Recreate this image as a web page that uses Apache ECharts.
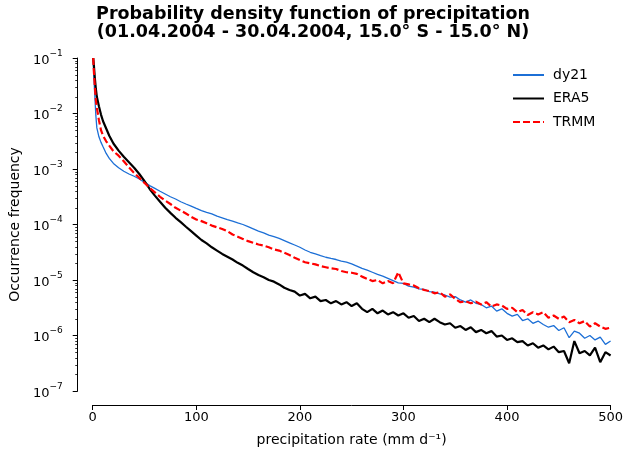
<!DOCTYPE html>
<html>
<head>
<meta charset="utf-8">
<script src="https://cdn.jsdelivr.net/npm/echarts@6/dist/echarts.min.js"></script>
<style>
html, body { margin: 0; padding: 0; background: #fff; }
#main { width: 626px; height: 457px; }
</style>
</head>
<body>
<div id="main"></div>
<script>
// precipitation rate bins (mm/d)
var rate = [0.5, 1, 2, 3, 4, 6, 8, 10, 13, 16, 20, 25, 30, 35, 40, 45, 50,
  55, 60, 65, 70, 75, 80, 85, 90, 95, 100, 105, 110, 115, 120, 125, 130, 135, 140, 145, 150,
  155, 160, 165, 170, 175, 180, 185, 190, 195, 200, 205, 210, 215, 220, 225, 230, 235, 240, 245, 250,
  255, 260, 265, 270, 275, 280, 285, 290, 295, 300, 305, 310, 315, 320, 325, 330, 335, 340, 345, 350,
  355, 360, 365, 370, 375, 380, 385, 390, 395, 400, 405, 410, 415, 420, 425, 430, 435, 440, 445, 450,
  455, 460, 465, 470, 475, 480, 485, 490, 495, 500];

var dy21 = [1.0e-1, 5.0e-2, 2.14e-2, 9.33e-3, 5.50e-3, 3.80e-3, 3.02e-3, 2.51e-3, 1.91e-3, 1.55e-3, 1.26e-3, 1.05e-3, 9.12e-4, 8.13e-4, 7.41e-4, 6.61e-4, 5.75e-4,
  5.01e-4, 4.47e-4, 3.98e-4, 3.55e-4, 3.16e-4, 2.88e-4, 2.57e-4, 2.34e-4, 2.14e-4, 1.95e-4, 1.78e-4, 1.66e-4, 1.55e-4, 1.41e-4, 1.32e-4, 1.23e-4, 1.15e-4, 1.07e-4, 1.00e-4, 9.12e-5,
  8.32e-5, 7.59e-5, 7.08e-5, 6.46e-5, 6.03e-5, 5.62e-5, 5.13e-5, 4.68e-5, 4.27e-5, 3.89e-5, 3.47e-5, 3.16e-5, 2.95e-5, 2.75e-5, 2.57e-5, 2.45e-5, 2.34e-5, 2.19e-5, 2.09e-5, 1.95e-5,
  1.78e-5, 1.62e-5, 1.51e-5, 1.38e-5, 1.26e-5, 1.17e-5, 1.07e-5, 9.77e-6, 8.91e-6, 8.71e-6, 7.76e-6, 7.41e-6, 6.92e-6, 6.76e-6, 6.17e-6, 6.03e-6, 5.62e-6, 5.37e-6, 4.90e-6, 5.01e-6,
  4.37e-6, 3.98e-6, 4.37e-6, 3.80e-6, 3.63e-6, 3.16e-6, 3.39e-6, 2.75e-6, 3.02e-6, 2.51e-6, 2.24e-6, 2.40e-6, 1.86e-6, 2.00e-6, 1.66e-6, 1.82e-6, 1.58e-6, 1.41e-6, 1.51e-6, 1.23e-6,
  1.38e-6, 9.12e-7, 1.20e-6, 1.10e-6, 8.91e-7, 1.00e-6, 8.32e-7, 9.33e-7, 6.92e-7, 7.94e-7];

var era5 = [1.0e-1, 7.94e-2, 4.47e-2, 2.82e-2, 2.00e-2, 1.35e-2, 9.55e-3, 7.24e-3, 5.37e-3, 3.98e-3, 2.88e-3, 2.14e-3, 1.66e-3, 1.32e-3, 1.05e-3, 8.13e-4, 6.03e-4,
  4.37e-4, 3.31e-4, 2.57e-4, 2.00e-4, 1.62e-4, 1.32e-4, 1.10e-4, 9.12e-5, 7.59e-5, 6.31e-5, 5.25e-5, 4.57e-5, 3.89e-5, 3.39e-5, 2.95e-5, 2.63e-5, 2.34e-5, 2.04e-5, 1.82e-5, 1.58e-5,
  1.38e-5, 1.23e-5, 1.12e-5, 1.00e-5, 9.33e-6, 8.32e-6, 7.24e-6, 6.61e-6, 6.17e-6, 5.25e-6, 5.62e-6, 4.68e-6, 5.01e-6, 4.17e-6, 4.37e-6, 3.80e-6, 4.17e-6, 3.63e-6, 3.98e-6, 3.39e-6,
  3.80e-6, 3.02e-6, 2.63e-6, 3.02e-6, 2.51e-6, 2.82e-6, 2.40e-6, 2.63e-6, 2.29e-6, 2.51e-6, 2.09e-6, 2.24e-6, 1.82e-6, 2.00e-6, 1.74e-6, 2.00e-6, 1.74e-6, 1.58e-6, 1.66e-6, 1.38e-6,
  1.48e-6, 1.26e-6, 1.41e-6, 1.15e-6, 1.26e-6, 1.10e-6, 1.20e-6, 9.55e-7, 1.00e-6, 8.32e-7, 8.91e-7, 7.59e-7, 7.94e-7, 6.61e-7, 7.24e-7, 6.03e-7, 6.61e-7, 5.62e-7, 6.31e-7, 5.01e-7,
  5.25e-7, 3.16e-7, 7.94e-7, 4.79e-7, 5.25e-7, 4.37e-7, 6.03e-7, 3.31e-7, 5.01e-7, 4.37e-7];

var trmm = [1.0e-1, 6.31e-2, 3.16e-2, 1.78e-2, 1.26e-2, 7.59e-3, 5.01e-3, 3.98e-3, 3.16e-3, 2.63e-3, 2.09e-3, 1.74e-3, 1.38e-3, 1.07e-3, 8.51e-4, 6.92e-4, 5.62e-4,
  4.57e-4, 3.80e-4, 3.16e-4, 2.69e-4, 2.34e-4, 2.00e-4, 1.78e-4, 1.58e-4, 1.38e-4, 1.23e-4, 1.15e-4, 1.05e-4, 9.55e-5, 8.91e-5, 8.32e-5, 7.59e-5, 6.61e-5, 6.03e-5, 5.50e-5, 5.01e-5,
  4.68e-5, 4.37e-5, 4.17e-5, 3.89e-5, 3.55e-5, 3.39e-5, 3.09e-5, 2.82e-5, 2.51e-5, 2.29e-5, 2.09e-5, 2.00e-5, 1.91e-5, 1.78e-5, 1.70e-5, 1.62e-5, 1.58e-5, 1.45e-5, 1.38e-5, 1.35e-5,
  1.29e-5, 1.15e-5, 1.05e-5, 9.55e-6, 1.00e-5, 8.71e-6, 9.55e-6, 8.71e-6, 1.38e-5, 8.71e-6, 8.32e-6, 7.94e-6, 7.08e-6, 6.61e-6, 6.31e-6, 5.75e-6, 6.03e-6, 5.01e-6, 5.50e-6, 4.57e-6,
  3.98e-6, 4.17e-6, 3.80e-6, 4.07e-6, 3.63e-6, 3.98e-6, 3.31e-6, 3.63e-6, 3.47e-6, 3.02e-6, 3.16e-6, 2.63e-6, 2.88e-6, 2.34e-6, 2.63e-6, 2.40e-6, 2.63e-6, 2.09e-6, 2.29e-6, 2.00e-6,
  2.19e-6, 1.74e-6, 1.91e-6, 1.66e-6, 1.82e-6, 1.45e-6, 1.66e-6, 1.45e-6, 1.32e-6, 1.38e-6];

var xTicks = [0, 100, 200, 300, 400, 500];
var decades = [1e-7, 1e-6, 1e-5, 1e-4, 1e-3, 1e-2];
var minorMult = [2, 3, 4, 5, 6, 7, 8, 9];

function pairs(ys) {
  return rate.map(function (x, i) { return [x, ys[i]]; });
}

// minor tick positions on the log axis (2..9 x 10^n)
var minorTicks = [];
decades.forEach(function (d) {
  minorMult.forEach(function (m) { minorTicks.push([0, m * d]); });
});

var font = 'DejaVu Sans';
var yOffset = 15;
var myChart = echarts.init(document.getElementById('main'));

option = {
  animation: false,
  textStyle: { fontFamily: font },
  title: {
    text: 'Probability density function of precipitation\n(01.04.2004 - 30.04.2004, 15.0° S - 15.0° N)',
    left: 'center',
    top: 0,
    textStyle: { fontFamily: font, fontSize: 17.5, fontWeight: 'bold', color: '#000', lineHeight: 18 }
  },
  legend: {
    orient: 'vertical',
    left: 507,
    top: 63,
    itemWidth: 31,
    itemHeight: 14,
    itemGap: 9.5,
    itemStyle: { opacity: 0 },
    textStyle: { fontFamily: font, fontSize: 14, color: '#000', padding: [0, 0, 0, 4] },
    data: ['dy21', 'ERA5', 'TRMM']
  },
  grid: { left: 92, right: 15, top: 58, bottom: 66 },
  xAxis: {
    type: 'value',
    min: 0,
    max: 500,
    interval: 100,
    offset: 14,
    name: 'precipitation rate (mm d⁻¹)',
    nameLocation: 'middle',
    nameGap: 28,
    nameTextStyle: { fontFamily: font, fontSize: 14, color: '#000' },
    axisLine: { onZero: false, lineStyle: { color: '#000', width: 1 } },
    axisTick: { length: 5, lineStyle: { color: '#000' } },
    axisLabel: {
      fontFamily: font, fontSize: 13, color: '#000', margin: 6,
      formatter: function (v) { return xTicks.indexOf(v) >= 0 ? String(v) : ''; }
    },
    splitLine: { show: false }
  },
  yAxis: {
    type: 'log',
    min: 1e-7,
    max: 1e-1,
    splitNumber: 6,
    offset: yOffset,
    name: 'Occurrence frequency',
    nameLocation: 'middle',
    nameGap: 52,
    nameTextStyle: { fontFamily: font, fontSize: 14, color: '#000' },
    axisLine: { show: true, onZero: false, lineStyle: { color: '#000', width: 1 } },
    axisTick: { length: 5, lineStyle: { color: '#000' } },
    axisLabel: {
      fontFamily: font, color: '#000', margin: 15,
      formatter: function (v) {
        var e = Math.round(Math.log10(v));
        return '{b|10}{s|−' + Math.abs(e) + '}';
      },
      rich: {
        b: { fontFamily: font, fontSize: 13, lineHeight: 18, verticalAlign: 'bottom', color: '#000' },
        s: { fontFamily: font, fontSize: 9, lineHeight: 10, verticalAlign: 'top', color: '#000' }
      }
    },
    splitLine: { show: false }
  },
  series: [
    {
      name: 'dy21',
      type: 'line',
      data: pairs(dy21),
      showSymbol: false,
      symbol: 'none',
      color: '#1c6fd6',
      lineStyle: { width: 1.3, color: '#1c6fd6' }
    },
    {
      name: 'ERA5',
      type: 'line',
      data: pairs(era5),
      showSymbol: false,
      symbol: 'none',
      color: '#000',
      lineStyle: { width: 2.2, color: '#000' }
    },
    {
      name: 'TRMM',
      type: 'line',
      data: pairs(trmm),
      showSymbol: false,
      symbol: 'none',
      color: '#ff0000',
      lineStyle: { width: 2.2, color: '#ff0000', type: [7, 3] }
    },
    {
      name: 'minor',
      type: 'custom',
      silent: true,
      clip: false,
      data: minorTicks,
      renderItem: function (params, api) {
        var p = api.coord([api.value(0), api.value(1)]);
        var x = p[0] - yOffset;
        var y = Math.round(p[1]) + 0.5;
        return {
          type: 'line',
          shape: { x1: x - 2.5, y1: y, x2: x, y2: y },
          style: { stroke: '#000', lineWidth: 0.8 }
        };
      }
    }
  ]
};

myChart.setOption(option);
</script>
</body>
</html>
